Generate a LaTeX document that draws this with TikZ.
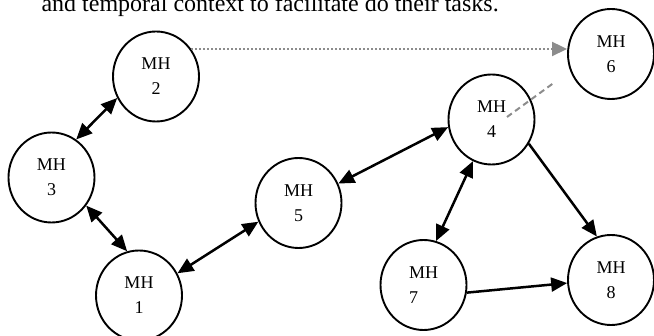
\documentclass[tikz,border=0pt]{standalone}
\usepackage{fontspec}
\setmainfont{Liberation Serif}
\usetikzlibrary{arrows.meta,shapes.geometric}
\begin{document}
\begin{tikzpicture}[x=1pt,y=-1pt,
  mh/.style={draw,ellipse,line width=1.9pt,minimum width=86pt,minimum height=90pt,inner sep=0pt,
    font=\fontsize{18}{25}\selectfont,align=center},
  link/.style={line width=2.5pt,{Triangle[length=16pt,width=14pt]}-{Triangle[length=16pt,width=14pt]}},
  oneway/.style={line width=2.5pt,-{Triangle[length=16pt,width=14pt]}},
  dotlink/.style={draw=gray!90,line width=2pt,dash pattern=on 2pt off 2pt,-{Triangle[length=15pt,width=14pt,fill=gray!90]}},
  dashlink/.style={draw=gray!90,line width=2pt,dash pattern=on 6pt off 4pt}]
\useasboundingbox (0,0) rectangle (654,336);
\node[anchor=base west,font=\fontsize{24}{28}\selectfont] (cap) at (38,12) {and temporal context to facilitate do their tasks.};
\node[mh] (MH2) at (156,76.5) {MH\\2};
\node[mh] (MH3) at (51.5,177.5) {MH\\3};
\node[mh] (MH1) at (139,295.5) {MH\\1};
\node[mh] (MH5) at (298.5,203) {MH\\5};
\node[mh] (MH4) at (491.5,119.5) {MH\\4};
\node[mh] (MH6) at (611,54) {MH\\6};
\node[mh,align=left] (MH7) at (423.5,285) {MH\\7};
\node[mh] (MH8) at (611,280) {MH\\8};
\coordinate (d1) at (507,117);
\coordinate (d2) at (555,82);
\draw[link] (MH3.57) -- (MH2.209);
\draw[link] (MH3.-39) -- (MH1.105);
\draw[link] (MH1.30) -- (MH5.205);
\draw[link] (MH5.26) -- (MH4.190);
\draw[link] (MH4.246.5) -- (MH7.74.5);
\draw[oneway] (MH4.-33.5) -- (MH8.108);
\draw[oneway] (MH7.-10) -- (MH8.184);
\draw[dotlink] (MH2.38) -- (MH2.38 -| MH6.west);
\draw[dashlink] (d1) -- (d2);
\end{tikzpicture}
\end{document}
